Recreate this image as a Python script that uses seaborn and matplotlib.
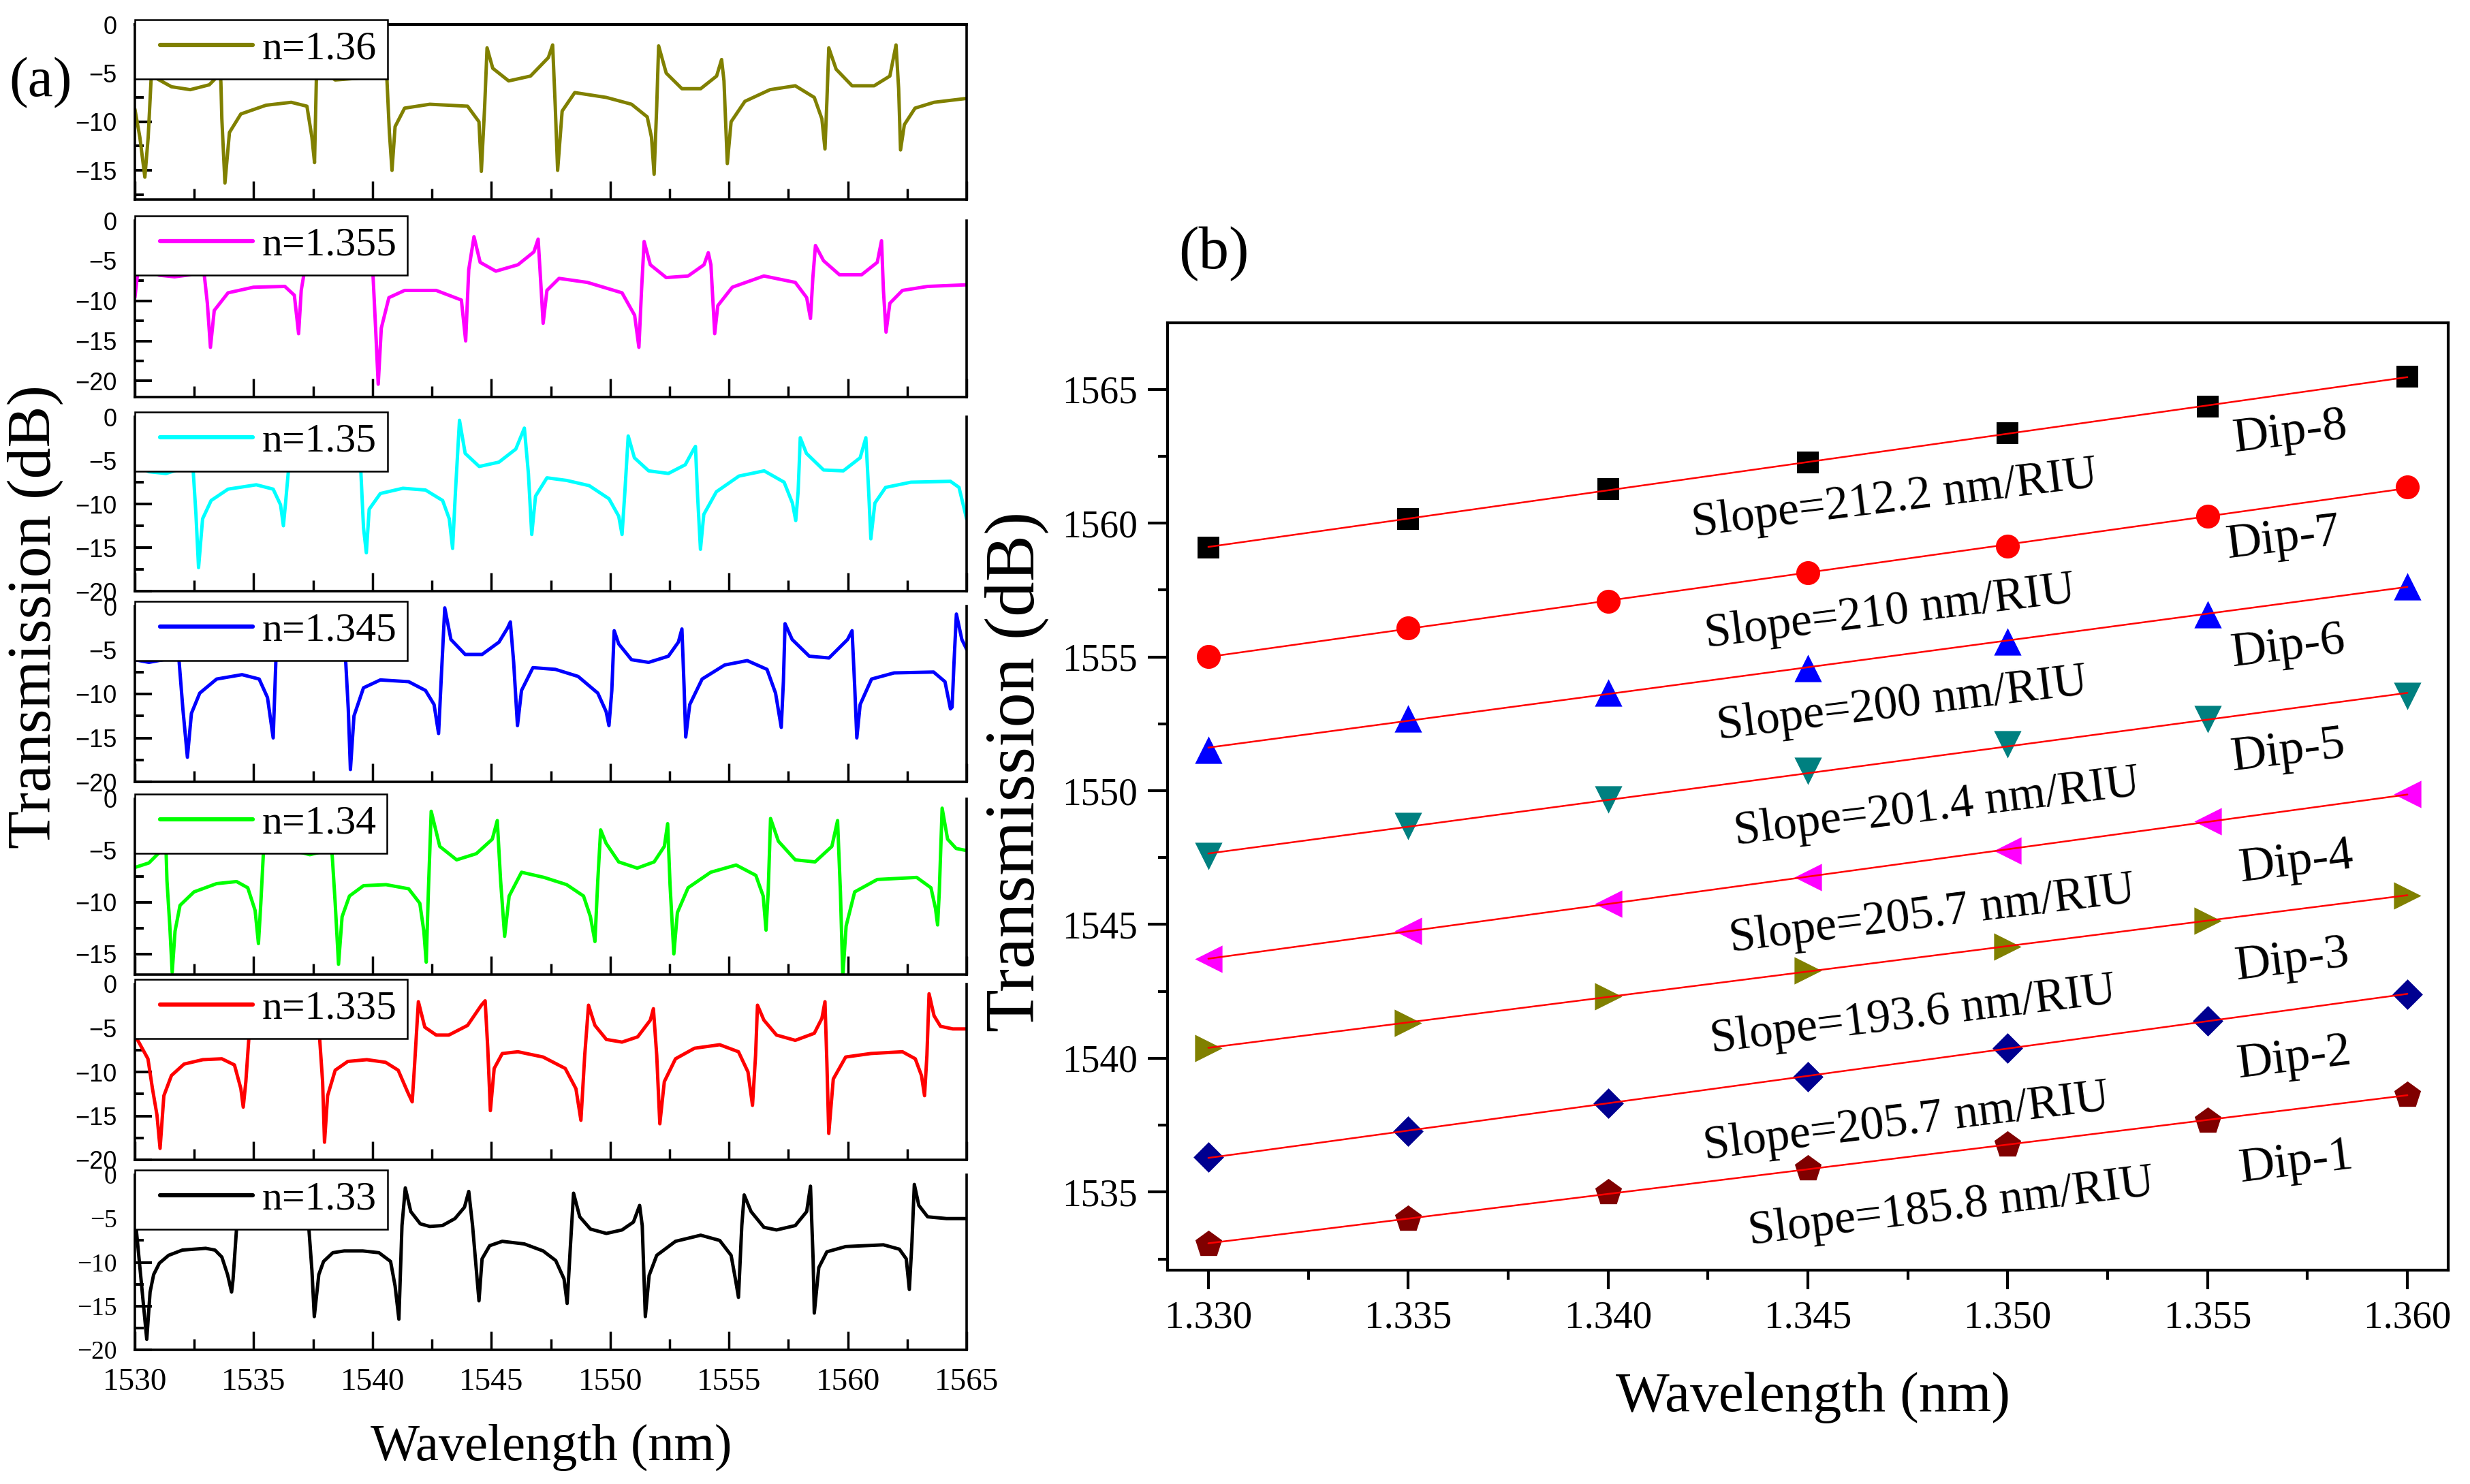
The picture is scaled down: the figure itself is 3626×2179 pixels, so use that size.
import numpy as np
import matplotlib
matplotlib.use("Agg")
import matplotlib.pyplot as plt
import seaborn as sns
from matplotlib.ticker import MultipleLocator, FormatStrFormatter
from matplotlib.legend_handler import HandlerLine2D
from matplotlib.lines import Line2D

sns.set_style("ticks")
plt.rcParams["font.family"] = ["Liberation Serif", "DejaVu Serif"]
plt.rcParams["axes.unicode_minus"] = True
for k in ["axes.edgecolor", "xtick.color", "ytick.color", "text.color", "axes.labelcolor"]:
    plt.rcParams[k] = "black"

# ---------------- panel (a): transmission spectra (wavelength nm, dB) ----------------
spec_136 = [(1530.00,-8.7),(1530.21,-11.6),(1530.42,-15.7),(1530.56,-11.6),(1530.69,-5.3),(1530.78,-2.5),
    (1530.88,-5.5),(1531.54,-6.4),(1532.33,-6.7),(1533.13,-6.2),(1533.45,-5.4),(1533.55,-2.8),(1533.62,-6.0),
    (1533.66,-9.7),(1533.79,-16.3),(1533.98,-11.1),(1534.46,-9.2),(1535.52,-8.3),(1536.58,-8.0),(1537.24,-8.4),
    (1537.45,-11.6),(1537.56,-14.2),(1537.64,-5.3),(1537.70,-2.5),(1537.90,-4.8),(1538.43,-5.7),(1539.49,-5.5),
    (1540.42,-5.3),(1540.52,-3.0),(1540.61,-5.8),(1540.71,-11.1),(1540.82,-15.0),(1540.95,-10.5),(1541.35,-8.6),
    (1542.41,-8.2),(1544.00,-8.4),(1544.48,-10.0),(1544.58,-15.1),(1544.72,-8.4),(1544.82,-2.4),(1545.06,-4.5),
    (1545.73,-5.8),(1546.65,-5.3),(1547.40,-3.4),(1547.58,-2.1),(1547.69,-8.4),(1547.79,-15.0),(1547.98,-8.9),
    (1548.51,-7.0),(1549.84,-7.5),(1550.90,-8.2),(1551.56,-9.5),(1551.74,-11.6),(1551.85,-15.4),(1551.96,-8.4),
    (1552.04,-2.2),(1552.36,-5.0),(1553.02,-6.6),(1553.81,-6.6),(1554.48,-5.3),(1554.69,-3.6),(1554.79,-5.8),
    (1554.93,-14.3),(1555.09,-10.0),(1555.67,-7.9),(1556.73,-6.7),(1557.79,-6.3),(1558.59,-7.5),(1558.91,-9.7),
    (1559.04,-12.8),(1559.12,-7.9),(1559.20,-2.4),(1559.51,-4.6),(1560.18,-6.3),(1561.11,-6.3),(1561.77,-5.3),
    (1562.03,-2.1),(1562.14,-6.6),(1562.22,-12.9),(1562.38,-10.3),(1562.83,-8.6),(1563.63,-8.0),(1565.00,-7.6)]

spec_1355 = [(1530.00,-9.6),(1530.11,-6.75),(1530.20,-3.5),(1530.60,-5.8),(1531.01,-6.8),(1531.67,-7.0),
    (1532.33,-6.75),(1532.60,-3.0),(1532.92,-6.75),(1533.05,-10.3),(1533.18,-15.8),(1533.34,-11.2),(1533.92,-9.0),
    (1534.99,-8.3),(1536.31,-8.2),(1536.71,-9.3),(1536.89,-14.1),(1537.00,-8.7),(1537.11,-6.75),(1537.20,-2.5),
    (1537.60,-4.8),(1538.60,-5.9),(1539.50,-5.0),(1539.90,-3.0),(1540.02,-6.75),(1540.13,-13.4),(1540.24,-20.4),
    (1540.37,-13.4),(1540.69,-9.6),(1541.35,-8.7),(1542.68,-8.7),(1543.74,-9.9),(1543.92,-15.0),(1544.05,-6.1),
    (1544.27,-2.0),(1544.53,-5.2),(1545.19,-6.3),(1546.12,-5.5),(1546.79,-3.9),(1546.97,-2.3),(1547.10,-8.7),
    (1547.18,-12.8),(1547.34,-8.7),(1547.85,-7.2),(1549.04,-7.7),(1550.50,-9.0),(1551.03,-11.8),(1551.21,-15.8),
    (1551.32,-8.7),(1551.43,-2.6),(1551.69,-5.5),(1552.36,-7.1),(1553.28,-6.9),(1553.95,-5.5),(1554.13,-4.0),
    (1554.24,-5.5),(1554.40,-14.1),(1554.53,-10.6),(1555.14,-8.3),(1556.47,-6.9),(1557.79,-7.7),(1558.27,-9.6),
    (1558.43,-12.2),(1558.53,-7.1),(1558.64,-3.1),(1558.98,-5.0),(1559.65,-6.75),(1560.58,-6.75),(1561.24,-5.2),
    (1561.42,-2.5),(1561.50,-8.7),(1561.61,-13.9),(1561.77,-10.3),(1562.30,-8.7),(1563.36,-8.2),(1565.00,-8.0)]

spec_135 = [(1530.05,-5.6),(1530.59,-6.3),(1531.31,-6.5),(1531.90,-6.0),(1532.26,-5.4),(1532.36,-2.5),
    (1532.45,-6.0),(1532.57,-11.2),(1532.68,-17.3),(1532.85,-11.7),(1533.21,-9.6),(1533.92,-8.3),(1535.11,-7.8),
    (1535.82,-8.3),(1536.13,-10.1),(1536.25,-12.5),(1536.34,-9.9),(1536.48,-5.6),(1536.58,-1.8),(1536.90,-3.8),
    (1537.80,-4.9),(1538.80,-4.3),(1539.40,-2.5),(1539.50,-5.7),(1539.62,-12.7),(1539.74,-15.6),(1539.86,-10.6),
    (1540.33,-8.8),(1541.28,-8.2),(1542.23,-8.4),(1542.95,-9.6),(1543.23,-11.7),(1543.37,-15.1),(1543.49,-8.6),
    (1543.66,-0.4),(1543.90,-4.2),(1544.49,-5.7),(1545.32,-5.2),(1546.03,-3.7),(1546.39,-1.3),(1546.56,-6.5),
    (1546.70,-13.5),(1546.86,-9.1),(1547.34,-7.0),(1548.17,-7.3),(1549.12,-7.9),(1549.95,-9.4),(1550.36,-11.4),
    (1550.50,-13.5),(1550.62,-8.6),(1550.76,-2.2),(1551.02,-4.7),(1551.62,-6.2),(1552.45,-6.5),(1553.16,-5.5),
    (1553.52,-3.7),(1553.59,-3.4),(1553.68,-9.1),(1553.80,-15.2),(1553.94,-11.2),(1554.47,-8.6),(1555.42,-6.8),
    (1556.48,-6.2),(1557.32,-7.5),(1557.67,-9.9),(1557.81,-11.9),(1557.91,-8.6),(1558.00,-2.4),(1558.26,-4.2),
    (1558.98,-6.1),(1559.81,-6.2),(1560.52,-4.7),(1560.76,-2.4),(1560.88,-8.6),(1560.97,-14.0),(1561.14,-9.9),
    (1561.59,-8.1),(1562.66,-7.5),(1564.32,-7.4),(1564.68,-8.1),(1565.00,-11.7)]

spec_1345 = [(1530.00,-6.1),(1530.59,-6.4),(1531.19,-6.1),(1531.54,-5.3),(1531.70,-3.0),(1531.85,-5.9),
    (1532.02,-11.7),(1532.21,-17.2),(1532.38,-12.2),(1532.73,-9.9),(1533.44,-8.3),(1534.51,-7.8),(1535.23,-8.3),
    (1535.58,-10.4),(1535.82,-15.0),(1535.94,-5.7),(1536.05,-1.5),(1536.40,-3.8),(1537.30,-4.8),(1538.30,-4.2),
    (1538.75,-2.5),(1538.86,-5.7),(1538.98,-11.7),(1539.07,-18.6),(1539.22,-12.5),(1539.62,-9.3),(1540.33,-8.4),
    (1541.52,-8.6),(1542.23,-9.6),(1542.59,-11.2),(1542.78,-14.5),(1542.90,-7.8),(1543.04,-0.2),(1543.30,-3.8),
    (1543.90,-5.5),(1544.61,-5.5),(1545.32,-4.1),(1545.68,-2.5),(1545.80,-1.8),(1545.94,-6.4),(1546.10,-13.6),
    (1546.27,-9.6),(1546.75,-7.0),(1547.70,-7.2),(1548.65,-8.0),(1549.48,-9.9),(1549.83,-12.0),(1549.95,-13.6),
    (1550.07,-9.6),(1550.17,-2.8),(1550.36,-4.3),(1550.90,-6.1),(1551.62,-6.4),(1552.45,-5.7),(1552.87,-4.1),
    (1553.02,-2.6),(1553.11,-9.1),(1553.18,-14.9),(1553.35,-11.2),(1553.87,-8.3),(1554.82,-6.7),(1555.77,-6.2),
    (1556.60,-7.2),(1556.96,-9.9),(1557.20,-13.8),(1557.29,-8.6),(1557.36,-2.0),(1557.66,-3.8),(1558.38,-5.7),
    (1559.21,-5.9),(1559.99,-3.8),(1560.18,-2.8),(1560.29,-9.1),(1560.38,-15.0),(1560.52,-11.2),(1561.00,-8.3),
    (1561.95,-7.6),(1563.61,-7.5),(1564.09,-8.6),(1564.32,-11.7),(1564.39,-11.5),(1564.47,-6.4),(1564.57,-0.9),
    (1564.80,-3.8),(1565.00,-4.9)]

spec_134 = [(1530.05,-6.6),(1530.59,-6.2),(1531.02,-5.2),(1531.19,-4.7),(1531.28,-2.5),(1531.35,-7.9),
    (1531.47,-12.3),(1531.57,-16.8),(1531.69,-12.8),(1531.90,-10.3),(1532.49,-9.0),(1533.44,-8.2),(1534.28,-8.0),
    (1534.75,-8.6),(1535.06,-10.8),(1535.20,-14.0),(1535.30,-10.1),(1535.42,-4.7),(1535.52,-2.0),(1535.90,-3.8),
    (1536.53,-4.9),(1537.36,-5.4),(1538.08,-5.0),(1538.20,-2.5),(1538.31,-5.7),(1538.43,-10.1),(1538.57,-16.0),
    (1538.72,-11.4),(1539.03,-9.4),(1539.62,-8.4),(1540.57,-8.3),(1541.52,-8.7),(1541.99,-10.1),(1542.16,-12.8),
    (1542.26,-15.8),(1542.35,-9.0),(1542.47,-1.2),(1542.83,-4.6),(1543.54,-5.9),(1544.37,-5.3),(1545.04,-3.9),
    (1545.25,-2.1),(1545.39,-7.9),(1545.56,-13.3),(1545.75,-9.4),(1546.27,-7.1),(1547.22,-7.6),(1548.17,-8.3),
    (1548.88,-9.4),(1549.17,-11.4),(1549.36,-13.8),(1549.48,-7.9),(1549.60,-3.0),(1549.83,-4.3),(1550.36,-6.1),
    (1551.14,-6.7),(1551.85,-6.1),(1552.28,-4.6),(1552.42,-2.4),(1552.52,-8.3),(1552.68,-15.0),(1552.83,-11.0),
    (1553.28,-8.6),(1554.23,-7.1),(1555.30,-6.4),(1556.13,-7.4),(1556.44,-9.4),(1556.56,-12.7),(1556.65,-9.0),
    (1556.75,-1.9),(1557.08,-4.1),(1557.79,-5.9),(1558.62,-6.1),(1559.33,-4.6),(1559.57,-2.1),(1559.69,-9.0),
    (1559.79,-17.2),(1559.93,-12.3),(1560.29,-9.0),(1561.24,-7.8),(1562.90,-7.6),(1563.50,-8.6),(1563.69,-10.6),
    (1563.78,-12.2),(1563.85,-9.0),(1563.97,-0.9),(1564.20,-3.9),(1564.56,-4.8),(1565.00,-5.0)]

spec_1335 = [(1530.00,-5.8),(1530.55,-8.5),(1530.74,-11.9),(1530.93,-14.9),(1531.06,-18.7),(1531.22,-12.7),
    (1531.54,-10.4),(1532.07,-9.1),(1532.86,-8.6),(1533.66,-8.5),(1534.19,-9.2),(1534.46,-11.9),(1534.56,-14.0),
    (1534.67,-11.1),(1534.80,-6.0),(1534.90,-2.5),(1535.20,-4.5),(1536.00,-5.3),(1536.90,-4.8),(1537.50,-3.0),
    (1537.68,-2.2),(1537.77,-6.0),(1537.90,-11.1),(1537.98,-18.0),(1538.11,-12.7),(1538.43,-9.8),(1538.96,-8.8),
    (1539.76,-8.6),(1540.55,-8.9),(1541.08,-9.8),(1541.48,-12.3),(1541.67,-13.4),(1541.77,-9.2),(1541.93,-2.0),
    (1542.20,-4.9),(1542.68,-5.8),(1543.21,-5.8),(1544.00,-4.7),(1544.58,-2.4),(1544.74,-1.9),(1544.85,-7.3),
    (1544.96,-14.4),(1545.12,-9.6),(1545.46,-7.9),(1546.12,-7.7),(1547.18,-8.3),(1548.11,-9.6),(1548.56,-11.9),
    (1548.77,-15.5),(1548.93,-8.1),(1549.09,-2.4),(1549.36,-4.7),(1549.84,-6.3),(1550.50,-6.6),(1551.16,-6.0),
    (1551.69,-4.1),(1551.82,-2.8),(1551.96,-8.1),(1552.09,-15.9),(1552.28,-11.1),(1552.75,-8.5),(1553.55,-7.3),
    (1554.61,-6.9),(1555.40,-7.7),(1555.80,-10.0),(1555.99,-13.8),(1556.12,-8.1),(1556.20,-2.4),(1556.47,-4.1),
    (1557.00,-5.8),(1557.79,-6.4),(1558.59,-5.6),(1558.91,-3.9),(1559.04,-2.0),(1559.12,-8.9),(1559.20,-17.0),
    (1559.39,-10.8),(1559.91,-8.3),(1560.97,-7.9),(1562.30,-7.7),(1562.84,-8.5),(1563.10,-10.4),(1563.23,-12.7),
    (1563.33,-8.1),(1563.42,-1.1),(1563.63,-3.6),(1563.90,-4.8),(1564.42,-5.1),(1565.00,-5.1)]

spec_133 = [(1530.04,-5.7),(1530.50,-18.8),(1530.64,-13.4),(1530.79,-11.4),(1531.03,-10.1),(1531.42,-9.2),
    (1532.00,-8.6),(1532.98,-8.4),(1533.37,-8.6),(1533.66,-9.4),(1533.90,-11.4),(1534.07,-13.4),(1534.13,-12.0),
    (1534.29,-5.7),(1534.35,-2.0),(1534.60,-4.0),(1535.40,-5.0),(1536.30,-4.8),(1536.90,-3.6),(1537.20,-2.0),
    (1537.31,-5.7),(1537.45,-10.9),(1537.55,-16.2),(1537.74,-11.4),(1537.94,-9.9),(1538.33,-8.9),(1538.81,-8.7),
    (1539.59,-8.7),(1540.27,-8.9),(1540.76,-9.9),(1540.95,-12.7),(1541.11,-16.5),(1541.24,-5.8),(1541.38,-1.5),
    (1541.61,-4.2),(1542.01,-5.6),(1542.41,-5.9),(1542.94,-5.8),(1543.47,-5.0),(1543.87,-3.7),(1544.05,-1.9),
    (1544.21,-5.8),(1544.48,-14.4),(1544.61,-9.6),(1544.93,-8.1),(1545.46,-7.6),(1546.39,-7.9),(1547.18,-8.7),
    (1547.71,-9.8),(1548.06,-11.9),(1548.19,-14.7),(1548.32,-8.5),(1548.46,-2.1),(1548.72,-4.8),(1549.17,-6.2),
    (1549.84,-6.7),(1550.50,-6.3),(1550.98,-5.4),(1551.24,-3.5),(1551.35,-5.8),(1551.48,-16.2),(1551.64,-11.5),
    (1551.96,-9.2),(1552.75,-7.6),(1553.81,-6.9),(1554.61,-7.5),(1555.09,-9.2),(1555.27,-11.9),(1555.40,-14.0),
    (1555.54,-5.8),(1555.64,-2.3),(1555.93,-4.2),(1556.47,-6.0),(1557.00,-6.3),(1557.79,-5.8),(1558.27,-4.2),
    (1558.43,-1.3),(1558.54,-9.6),(1558.59,-15.8),(1558.78,-10.6),(1559.12,-8.8),(1559.91,-8.2),(1561.50,-8.0),
    (1562.17,-8.5),(1562.46,-9.6),(1562.59,-13.1),(1562.70,-7.7),(1562.80,-1.1),(1562.99,-3.5),(1563.36,-4.8),
    (1564.15,-5.0),(1565.00,-5.0)]

spectra = [spec_136, spec_1355, spec_135, spec_1345, spec_134, spec_1335, spec_133]
spec_labels = ["n=1.36", "n=1.355", "n=1.35", "n=1.345", "n=1.34", "n=1.335", "n=1.33"]
spec_colors = ["#808000", "#FF00FF", "#00FFFF", "#0000FF", "#00FF00", "#FF0000", "#000000"]
spec_ylims = [(-18, 0), (-22, 0), (-20, 0), (-20, 0), (-17, 0), (-20, 0), (-20, 0)]

# ---------------- panel (b): dip wavelength versus refractive index ----------------
ri = [1.330, 1.335, 1.340, 1.345, 1.350, 1.355, 1.360]
dip8 = [1559.09, 1560.17, 1561.27, 1562.28, 1563.37, 1564.36, 1565.47]
dip7 = [1555.01, 1556.08, 1557.09, 1558.16, 1559.14, 1560.26, 1561.35]
dip6 = [1551.54, 1552.70, 1553.67, 1554.58, 1555.57, 1556.60, 1557.65]
dip5 = [1547.55, 1548.68, 1549.68, 1550.74, 1551.72, 1552.67, 1553.55]
dip4 = [1543.72, 1544.77, 1545.77, 1546.77, 1547.77, 1548.85, 1549.88]
dip3 = [1540.38, 1541.32, 1542.32, 1543.27, 1544.18, 1545.15, 1546.08]
dip2 = [1536.30, 1537.27, 1538.32, 1539.32, 1540.38, 1541.40, 1542.40]
dip1 = [1533.05, 1534.00, 1534.98, 1535.88, 1536.77, 1537.65, 1538.63]
dips = [dip8, dip7, dip6, dip5, dip4, dip3, dip2, dip1]
dip_markers = ["s", "o", "^", "v", "<", ">", "D", "p"]
dip_colors = ["#000000", "#FF0000", "#0000FF", "#008080", "#FF00FF", "#808000", "#000090", "#800000"]
dip_sizes = [530, 640, 840, 840, 840, 840, 520, 880]
dip_names = ["Dip-8", "Dip-7", "Dip-6", "Dip-5", "Dip-4", "Dip-3", "Dip-2", "Dip-1"]
dip_name_pos = [(1.35707, 1563.37), (1.35690, 1559.42), (1.35702, 1555.37), (1.35702, 1551.46),
                (1.35723, 1547.32), (1.35713, 1543.65), (1.35718, 1539.98), (1.35723, 1536.10)]
slope_texts = ["Slope=212.2 nm/RIU", "Slope=210 nm/RIU", "Slope=200 nm/RIU", "Slope=201.4 nm/RIU",
               "Slope=205.7 nm/RIU", "Slope=193.6 nm/RIU", "Slope=205.7 nm/RIU", "Slope=185.8 nm/RIU"]
slope_pos = [(1.34718, 1560.87), (1.34705, 1556.63), (1.34736, 1553.21), (1.34823, 1549.33),
             (1.34811, 1545.35), (1.34764, 1541.57), (1.34747, 1537.57), (1.34859, 1534.40)]

# ---------------- figure ----------------
W, H = 3626, 2179
fig = plt.figure(figsize=(W / 100, H / 100), dpi=100)


def frac(left, top, right, bottom):
    return [left / W, 1 - bottom / H, (right - left) / W, (bottom - top) / H]


rows = [(36, 293), (324, 583), (612, 868), (890, 1148), (1173, 1431), (1445, 1703), (1725, 1982)]
for i, (spec, lab, col, yl, (t, b)) in enumerate(zip(spectra, spec_labels, spec_colors, spec_ylims, rows)):
    ax = fig.add_axes(frac(198, t, 1419, b))
    wl = [p[0] for p in spec]
    db = [p[1] for p in spec]
    sns.lineplot(x=wl, y=db, ax=ax, color=col, lw=3.6, label=lab, sort=False, estimator=None)
    ax.set_xlim(1530, 1565)
    ax.set_ylim(*yl)
    ax.xaxis.set_major_locator(MultipleLocator(5))
    ax.xaxis.set_minor_locator(MultipleLocator(2.5))
    ax.yaxis.set_major_locator(MultipleLocator(5))
    ax.yaxis.set_minor_locator(MultipleLocator(2.5))
    ax.tick_params(axis="x", which="major", direction="in", length=19.5, width=2.5, labelsize=34, pad=19,
                   bottom=True, top=False, labelbottom=(i == 6))
    ax.tick_params(axis="x", which="minor", direction="in", length=11.5, width=2.5, bottom=True, top=False)
    ax.tick_params(axis="y", which="major", direction="in", length=18, width=2.8, pad=19,
                   left=True, right=False,
                   labelsize=(27 if i == 6 else 26),
                   labelfontfamily=("Liberation Serif" if i == 6 else "Liberation Sans"))
    ax.tick_params(axis="y", which="minor", direction="in", length=9.5, width=2.8, left=True, right=False)
    for s in ["left", "bottom", "right"]:
        ax.spines[s].set_linewidth(2.6)
    if i == 0:
        ax.spines["top"].set_linewidth(3)
    else:
        ax.spines["top"].set_visible(False)
    ax.set_xlabel("")
    ax.set_ylabel("")
    leg = ax.legend(loc="upper left", bbox_to_anchor=(0, 1.028), borderaxespad=0, fontsize=43,
                    frameon=True, fancybox=False, framealpha=1, edgecolor="black",
                    borderpad=0.27, handlelength=2.63, handletextpad=0.22,
                    handler_map={Line2D: HandlerLine2D(xpad=0.35)})
    leg.get_frame().set_linewidth(1.8)
    for h in leg.get_lines():
        h.set_linewidth(4.5)

fig.text(60 / W, 1 - 122 / H, "(a)", fontsize=60, ha="center", va="center")
fig.text(52 / W, 1 - 906 / H, "Transmission (dB)", fontsize=66, rotation=90, ha="center", va="center")
fig.text(809 / W, 1 - 2125 / H, "Wavelength (nm)", fontsize=55, ha="center", va="center")

# panel (b)
axb = fig.add_axes(frac(1714, 474, 3594, 1865))
for d, m, c, s in zip(dips, dip_markers, dip_colors, dip_sizes):
    sns.scatterplot(x=ri, y=d, ax=axb, marker=m, color=c, s=s, linewidth=0, legend=False, zorder=2)
for d in dips:
    sns.regplot(x=np.array(ri), y=np.array(d), ax=axb, scatter=False, ci=None, color="red",
                truncate=True, line_kws=dict(lw=1.8, zorder=3))
for txt, (x, y) in zip(slope_texts, slope_pos):
    axb.text(x, y, txt, fontsize=50, rotation=7, ha="center", va="center", rotation_mode="anchor")
for txt, (x, y) in zip(dip_names, dip_name_pos):
    axb.text(x, y, txt, fontsize=52, rotation=7, ha="center", va="center", rotation_mode="anchor")

axb.set_xlim(1.32898, 1.36102)
axb.set_ylim(1532.08, 1567.49)
axb.xaxis.set_major_locator(MultipleLocator(0.005))
axb.xaxis.set_minor_locator(MultipleLocator(0.0025))
axb.xaxis.set_major_formatter(FormatStrFormatter("%.3f"))
axb.yaxis.set_major_locator(MultipleLocator(5))
axb.yaxis.set_minor_locator(MultipleLocator(2.5))
axb.tick_params(axis="y", which="major", direction="out", length=21, width=3, labelsize=40, pad=11)
axb.tick_params(axis="x", which="major", direction="out", length=20, width=3, labelsize=41, pad=12)
axb.tick_params(axis="both", which="minor", direction="out", length=10, width=3)
for s in axb.spines.values():
    s.set_linewidth(3)
axb.set_xlabel("")
axb.set_ylabel("")

fig.text(1782 / W, 1 - 373 / H, "(b)", fontsize=64, ha="center", va="center")
fig.text(1493 / W, 1 - 1133 / H, "Transmission (dB)", fontsize=74, rotation=90, ha="center", va="center")
fig.text(2661 / W, 1 - 2052 / H, "Wavelength (nm)", fontsize=60, ha="center", va="center")

fig.savefig("out.png", dpi=100, facecolor="white")
